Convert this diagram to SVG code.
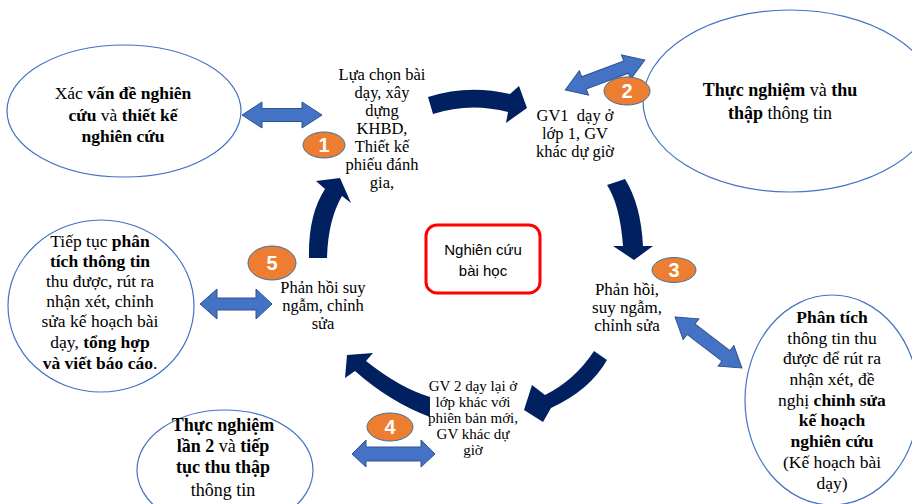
<svg xmlns="http://www.w3.org/2000/svg" width="912" height="504" viewBox="0 0 912 504">
<style>
.bg{fill:#ffffff}
.big{fill:#ffffff;stroke:#4472C4;stroke-width:1.2}
.t{fill:#000000;text-anchor:middle}
.b{font-weight:bold}
.navy{fill:#002060}
.dbl{fill:#4472C4;stroke:#2F528F;stroke-width:1}
.num{fill:#ED7D31;stroke:#41719C;stroke-width:1}
.numt{font-family:"Liberation Sans",Arial,sans-serif;font-weight:bold;font-size:20px;fill:#ffffff;text-anchor:middle}
.box{fill:#ffffff;stroke:#FF0000;stroke-width:3}
.st{font-family:"Liberation Sans",Arial,sans-serif;font-size:15px;fill:#000000;text-anchor:middle}
</style>
<rect class="bg" x="0" y="0" width="912" height="504"/>

<g id="node-e1" font-family="Liberation Serif, DejaVu Serif, serif">
<ellipse class="big" cx="124" cy="111" rx="117" ry="66"/>
<text class="t" font-size="17.5"><tspan x="123" y="99">Xác <tspan class="b">vấn đề nghiên</tspan></tspan><tspan x="123" y="121"><tspan class="b">cứu</tspan> và <tspan class="b">thiết kế</tspan></tspan><tspan x="123" y="142" class="b">nghiên cứu</tspan></text>
</g>

<g id="node-e2" font-family="Liberation Serif, DejaVu Serif, serif">
<ellipse class="big" cx="790" cy="101" rx="147" ry="91"/>
<text class="t" font-size="18"><tspan x="780" y="96"><tspan class="b">Thực nghiệm</tspan> và <tspan class="b">thu</tspan></tspan><tspan x="780" y="119"><tspan class="b">thập</tspan> thông tin</tspan></text>
</g>

<g id="node-e3" font-family="Liberation Serif, DejaVu Serif, serif">
<ellipse class="big" cx="101" cy="306" rx="93" ry="86"/>
<text class="t" font-size="17.5"><tspan x="100" y="247">Tiếp tục <tspan class="b">phân</tspan></tspan><tspan x="100" y="267" class="b">tích thông tin</tspan><tspan x="100" y="287">thu được, rút ra</tspan><tspan x="100" y="307">nhận xét, chỉnh</tspan><tspan x="100" y="327">sửa kế hoạch bài</tspan><tspan x="100" y="348">dạy, <tspan class="b">tổng hợp</tspan></tspan><tspan x="100" y="369"><tspan class="b">và viết báo cáo</tspan>.</tspan></text>
</g>

<g id="node-e4" font-family="Liberation Serif, DejaVu Serif, serif">
<ellipse class="big" cx="225" cy="470" rx="88" ry="60"/>
<text class="t" font-size="18"><tspan x="223" y="431" class="b">Thực nghiệm</tspan><tspan x="223" y="452"><tspan class="b">lần 2</tspan> và <tspan class="b">tiếp</tspan></tspan><tspan x="223" y="473" class="b">tục thu thập</tspan><tspan x="223" y="496">thông tin</tspan></text>
</g>

<g id="node-e5" font-family="Liberation Serif, DejaVu Serif, serif">
<ellipse class="big" cx="832" cy="400" rx="87" ry="105"/>
<text class="t" font-size="17.5"><tspan x="832" y="323" class="b">Phân tích</tspan><tspan x="832" y="344">thông tin thu</tspan><tspan x="832" y="364">được để rút ra</tspan><tspan x="832" y="385">nhận xét, đề</tspan><tspan x="832" y="406">nghị <tspan class="b">chỉnh sửa</tspan></tspan><tspan x="832" y="426" class="b">kế hoạch</tspan><tspan x="832" y="447" class="b">nghiên cứu</tspan><tspan x="832" y="468">(Kế hoạch bài</tspan><tspan x="832" y="489">dạy)</tspan></text>
</g>

<g id="node-center">
<rect class="box" x="426" y="225" width="114" height="68" rx="11"/>
<text class="st"><tspan x="483" y="255">Nghiên cứu</tspan><tspan x="483" y="276">bài học</tspan></text>
</g>

<g id="node-step1" font-family="Liberation Serif, DejaVu Serif, serif">
<text class="t" font-size="16.5"><tspan x="382" y="80">Lựa chọn bài</tspan><tspan x="382" y="98">dạy, xây</tspan><tspan x="382" y="116">dựng</tspan><tspan x="382" y="134">KHBD,</tspan><tspan x="382" y="152">Thiết kế</tspan><tspan x="382" y="170">phiếu đánh</tspan><tspan x="382" y="188">gia,</tspan></text>
</g>

<g id="node-step2" font-family="Liberation Serif, DejaVu Serif, serif">
<text class="t" font-size="16.5"><tspan x="575" y="121">GV1 &#160;dạy ở</tspan><tspan x="575" y="139">lớp 1, GV</tspan><tspan x="575" y="157">khác dự giờ</tspan></text>
</g>

<g id="node-step3" font-family="Liberation Serif, DejaVu Serif, serif">
<text class="t" font-size="17"><tspan x="627" y="295">Phản hồi,</tspan><tspan x="627" y="313">suy ngẫm,</tspan><tspan x="627" y="331">chỉnh sửa</tspan></text>
</g>

<g id="node-step4" font-family="Liberation Serif, DejaVu Serif, serif">
<text class="t" font-size="15"><tspan x="473" y="391">GV 2 dạy lại ở</tspan><tspan x="473" y="407">lớp khác với</tspan><tspan x="473" y="423">phiên bản mới,</tspan><tspan x="473" y="439">GV khác dự</tspan><tspan x="473" y="455">giờ</tspan></text>
</g>

<g id="node-step5" font-family="Liberation Serif, DejaVu Serif, serif">
<text class="t" font-size="16.5"><tspan x="323" y="293">Phản hồi suy</tspan><tspan x="323" y="311">ngẫm, chỉnh</tspan><tspan x="323" y="329">sửa</tspan></text>
</g>

<g id="connectors">
<path class="navy" d="M428,97 Q468,84 510,94 L519,86 L527,108 L506,123 L508,112 Q470,102 433,114 Z"/>
<path class="navy" d="M607,185 Q620,205 623,246 L613,246 L634,260 L653,246 L643,246 Q641,205 625,179 Z"/>
<path class="navy" d="M594,351 Q575,380 545,395 L532,385 L524,410 L543,422 L551,408 Q590,390 607,360 Z"/>
<path class="navy" d="M430,397 Q400,388 366,361 L373,353 L347,355 L345,378 L355,371 Q390,402 430,417 Z"/>
<path class="navy" d="M309,258 Q308,215 325,189 L316,181 L340,178 L351,203 L342,196 Q328,220 327,258 Z"/>

<polygon class="dbl" points="242,115 262,102 262,108.5 302,108.5 302,102 322,115 302,128 302,121.5 262,121.5 262,128"/>
<polygon class="dbl" transform="translate(605,75) rotate(-20.6)" points="-42.5,0 -22.5,-13 -22.5,-6.5 22.5,-6.5 22.5,-13 42.5,0 22.5,13 22.5,6.5 -22.5,6.5 -22.5,13"/>
<polygon class="dbl" transform="translate(708.5,342.5) rotate(37.3)" points="-42,0 -22,-13 -22,-6.5 22,-6.5 22,-13 42,0 22,13 22,6.5 -22,6.5 -22,13"/>
<polygon class="dbl" points="200,304 217,289 217,298 256,298 256,289 272,304 256,319 256,310 217,310 217,319"/>
<polygon class="dbl" points="352,454 366,440 366,447 421,447 421,440 435,454 421,467 421,461 366,461 366,467"/>
</g>

<g id="badge1"><ellipse class="num" cx="324" cy="145" rx="21" ry="13"/><text class="numt" x="324" y="152">1</text></g>
<g id="badge2"><ellipse class="num" cx="627" cy="91" rx="23" ry="14"/><text class="numt" x="627" y="98">2</text></g>
<g id="badge3"><ellipse class="num" cx="674" cy="270" rx="22" ry="12.5"/><text class="numt" x="674" y="277">3</text></g>
<g id="badge4"><ellipse class="num" cx="390" cy="427" rx="23" ry="14"/><text class="numt" x="390" y="434">4</text></g>
<g id="badge5"><ellipse class="num" cx="272" cy="263" rx="24" ry="17"/><text class="numt" x="272" y="270">5</text></g>
</svg>
